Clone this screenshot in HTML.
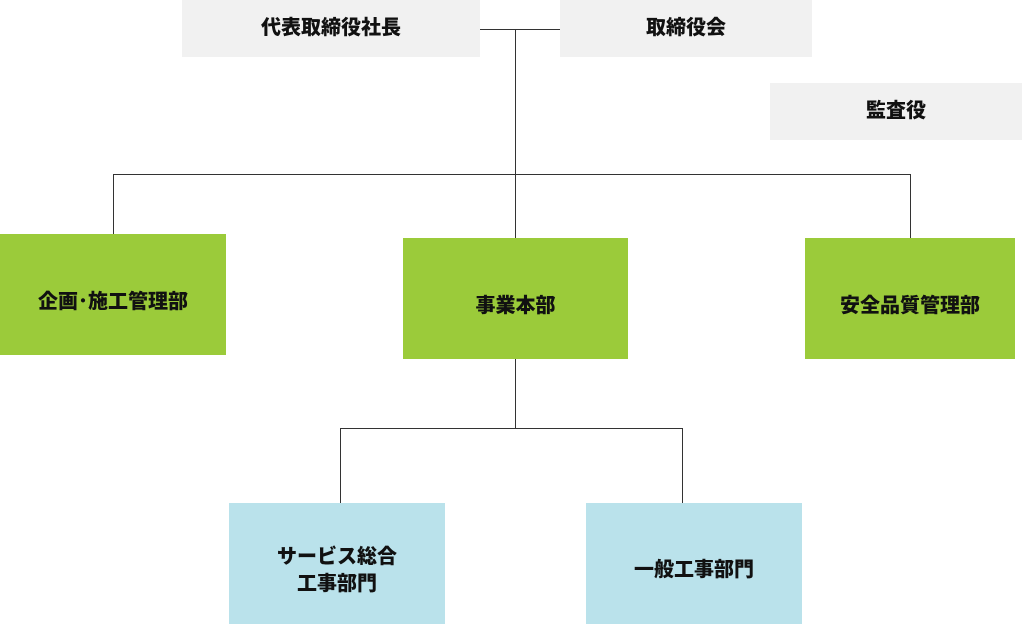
<!DOCTYPE html>
<html><head><meta charset="utf-8"><style>
body{margin:0;width:1024px;height:625px;background:#fff;position:relative;overflow:hidden;font-family:"Liberation Sans","Noto Sans CJK JP",sans-serif;}
.b{position:absolute;display:flex;align-items:center;justify-content:center;text-align:center;font-weight:900;font-size:20px;color:#111;line-height:1.35;box-sizing:border-box;}
.g{background:#f1f1f1}.gr{background:#9bcb3a;padding-top:16px}.bl{background:#bae2eb;padding-top:14px}
.l{position:absolute;background:#333}
</style></head><body>
<div class="l" style="left:480px;top:29px;width:80px;height:1px"></div>
<div class="l" style="left:515px;top:29px;width:1px;height:209px"></div>
<div class="l" style="left:113px;top:174px;width:798px;height:1px"></div>
<div class="l" style="left:113px;top:174px;width:1px;height:60px"></div>
<div class="l" style="left:910px;top:174px;width:1px;height:64px"></div>
<div class="l" style="left:515px;top:359px;width:1px;height:69px"></div>
<div class="l" style="left:340px;top:428px;width:343px;height:1px"></div>
<div class="l" style="left:340px;top:428px;width:1px;height:75px"></div>
<div class="l" style="left:682px;top:428px;width:1px;height:75px"></div>
<div class="b g" style="left:182px;top:0;width:298px;height:57px">代表取締役社長</div>
<div class="b g" style="left:560px;top:0;width:252px;height:57px">取締役会</div>
<div class="b g" style="left:770px;top:83px;width:252px;height:57px">監査役</div>
<div class="b gr" style="left:0;top:234px;width:226px;height:121px">企画･施工管理部</div>
<div class="b gr" style="left:403px;top:238px;width:225px;height:121px">事業本部</div>
<div class="b gr" style="left:805px;top:238px;width:210px;height:121px">安全品質管理部</div>
<div class="b bl" style="left:229px;top:503px;width:216px;height:121px">サービス総合<br>工事部門</div>
<div class="b bl" style="left:586px;top:503px;width:216px;height:121px">一般工事部門</div>
</body></html>
